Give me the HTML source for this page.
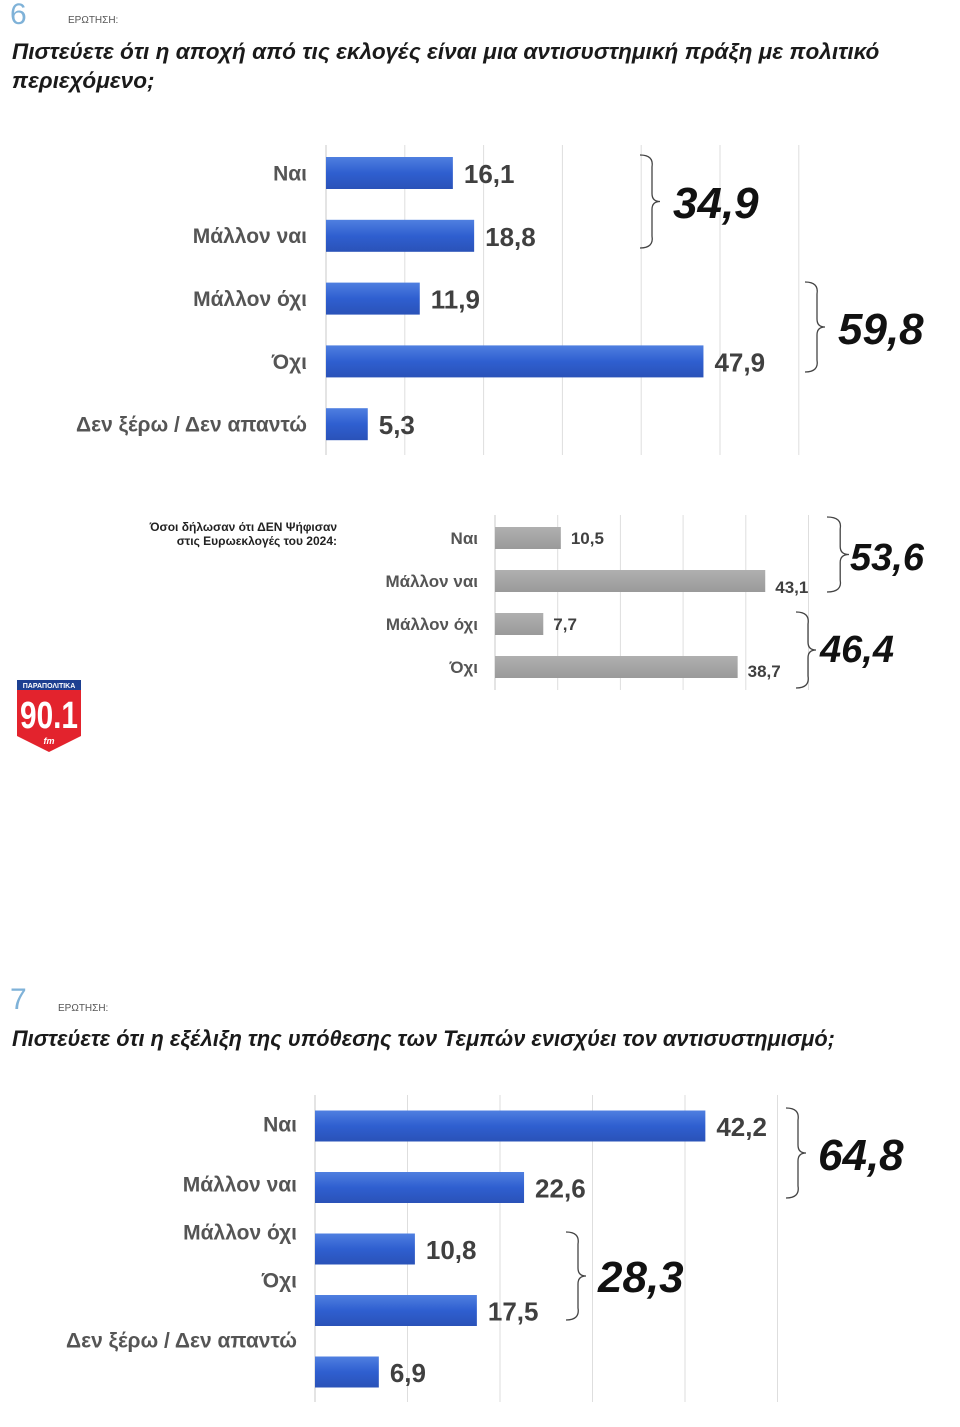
<!DOCTYPE html>
<html><head><meta charset="utf-8">
<style>
html,body{margin:0;padding:0;background:#fff;}
body{width:960px;height:1427px;position:relative;overflow:hidden;font-family:"Liberation Sans","DejaVu Sans",sans-serif;}
.abs{position:absolute;}
.qt{font-weight:bold;font-style:italic;font-size:22.6px;color:#1a1a1a;line-height:29px;}
.num{font-size:30px;color:#7fb2d8;font-weight:300;}
.lbl{font-size:10px;color:#555;}
</style></head>
<body>
<div class="abs num" style="left:10px;top:-2px;">6</div>
<div class="abs lbl" style="left:68px;top:15px;">ΕΡΩΤΗΣΗ:</div>
<div class="abs qt" style="left:12px;top:37px;width:940px;">Πιστεύετε ότι η αποχή από τις εκλογές είναι μια αντισυστημική πράξη με πολιτικό περιεχόμενο;</div>

<div class="abs" style="left:100px;top:520px;width:237px;text-align:right;font-size:12px;font-weight:bold;color:#222;line-height:14px;">Όσοι δήλωσαν ότι ΔΕΝ Ψήφισαν<br>στις Ευρωεκλογές του 2024:</div>

<div class="abs" style="left:16px;top:680px;width:66px;height:72px;">
<svg width="66" height="72" viewBox="0 0 66 72">
<path d="M1 0H65V56L33 72L1 56Z" fill="#e3232d"/>
<rect x="1" y="0" width="64" height="10" fill="#1d3f91"/>
<text x="33" y="8" font-size="7" font-weight="bold" fill="#fff" text-anchor="middle" font-family="Liberation Sans, sans-serif">ΠΑΡΑΠΟΛΙΤΙΚΑ</text>
<text x="33" y="48" font-size="38" font-weight="bold" fill="#fff" text-anchor="middle" font-family="Liberation Sans Narrow, Liberation Sans, sans-serif" textLength="58" lengthAdjust="spacingAndGlyphs">90.1</text>
<text x="33" y="64" font-size="9" font-style="italic" font-weight="bold" fill="#fff" text-anchor="middle">fm</text>
</svg></div>

<div class="abs num" style="left:10px;top:983px;">7</div>
<div class="abs lbl" style="left:58px;top:1003px;">ΕΡΩΤΗΣΗ:</div>
<div class="abs qt" style="left:12px;top:1024px;width:940px;font-size:21.8px;">Πιστεύετε ότι η εξέλιξη της υπόθεσης των Τεμπών ενισχύει τον αντισυστημισμό;</div>

<svg id="svg" class="abs" style="left:0;top:0" width="960" height="1427"></svg>

<script>
// Chart 1 data
const c1Categories = ["Ναι","Μάλλον ναι","Μάλλον όχι","Όχι","Δεν ξέρω / Δεν απαντώ"];
const c1Values = [16.1, 18.8, 11.9, 47.9, 5.3];
const c1Labels = ["16,1","18,8","11,9","47,9","5,3"];
const c1Totals = ["34,9","59,8"];
// Chart 2 data
const c2Categories = ["Ναι","Μάλλον ναι","Μάλλον όχι","Όχι"];
const c2Values = [10.5, 43.1, 7.7, 38.7];
const c2Labels = ["10,5","43,1","7,7","38,7"];
const c2Totals = ["53,6","46,4"];
// Chart 3 data
const c3Categories = ["Ναι","Μάλλον ναι","Μάλλον όχι","Όχι","Δεν ξέρω / Δεν απαντώ"];
const c3Values = [42.2, 22.6, 10.8, 17.5, 6.9];
const c3Labels = ["42,2","22,6","10,8","17,5","6,9"];
const c3Totals = ["64,8","28,3"];
const gridTicks = [0, 10, 20, 30, 40, 50, 60];

const NS = "http://www.w3.org/2000/svg";
const svg = document.getElementById('svg');
function mk(tag, attrs, parent){
  const e = document.createElementNS(NS, tag);
  for (const k in attrs) e.setAttribute(k, attrs[k]);
  (parent||svg).appendChild(e);
  return e;
}
const defs = mk('defs', {});
const gb = mk('linearGradient', {id:'gblue', x1:0, y1:0, x2:0, y2:1}, defs);
mk('stop', {offset:'0', 'stop-color':'#4f7fe0'}, gb);
mk('stop', {offset:'0.5', 'stop-color':'#2f5fd0'}, gb);
mk('stop', {offset:'1', 'stop-color':'#2a52b8'}, gb);
const gg = mk('linearGradient', {id:'ggrey', x1:0, y1:0, x2:0, y2:1}, defs);
mk('stop', {offset:'0', 'stop-color':'#b0b0b0'}, gg);
mk('stop', {offset:'1', 'stop-color':'#9a9a9a'}, gg);

function brace(x, y1, y2, w){
  const m = (y1+y2)/2;
  const d = `M${x} ${y1} Q${x+w*0.7} ${y1} ${x+w*0.6} ${y1+12} L${x+w*0.6} ${m-8} Q${x+w*0.6} ${m} ${x+w} ${m} Q${x+w*0.6} ${m} ${x+w*0.6} ${m+8} L${x+w*0.6} ${y2-12} Q${x+w*0.7} ${y2} ${x} ${y2}`;
  const p = mk('path', {d:d, fill:'none', stroke:'#444', 'stroke-width':1.3});
  
  
}

function chart(o){
  const xs = v => o.x0 + v * o.scale;
  const ys = i => o.y0 + i * o.step;
  gridTicks.forEach(t => {
    const x = xs(t);
    if (x > o.xmax) return;
    const l = mk('line', {x1:x, x2:x, y1:o.top, y2:o.bottom, stroke: t===0?'#c8c8c8':'#dedede', 'stroke-width':1});
    
    
  });
  o.cats.forEach((c, i) => {
    const y = ys(i);
    const r = mk('rect', {x:xs(0), y:y - o.bh/2, width:xs(o.vals[i]) - xs(0), height:o.bh, fill:o.fill});
    
    
    const v = mk('text', {x:xs(o.vals[i]) + o.vgap, y:y + o.vdy + (o.vOff ? o.vOff[i] : 0), 'font-size':o.vfs, 'font-weight':'bold', fill:'#404040', 'font-family':'Liberation Sans, sans-serif'});
    v.textContent = o.labs[i];
    
    
    const cy = o.catY ? o.catY[i] : y;
    const t = mk('text', {x:o.catX, y:cy + o.cfs*0.35, 'font-size':o.cfs, 'font-weight':'bold', fill:'#555', 'text-anchor':'end', 'font-family':'Liberation Sans, sans-serif'});
    t.textContent = c;
    
    
  });
  o.totals.forEach((tot, i) => {
    const b = o.braces[i];
    brace(b.x, b.y1, b.y2, b.w);
    const t = mk('text', {x:b.tx, y:b.ty, 'font-size':o.tfs, 'font-weight':'bold', 'font-style':'italic', fill:'#111', 'font-family':'Liberation Sans, sans-serif'});
    t.textContent = tot;
    
    
  });
}

chart({cats:c1Categories, vals:c1Values, labs:c1Labels, totals:c1Totals,
  x0:326, scale:7.88, xmax:800, y0:173, step:62.8, bh:32, top:145, bottom:455,
  fill:'url(#gblue)', vgap:11, vdy:10, vfs:26, catX:307, cfs:21, tfs:44,
  braces:[{x:640,y1:155,y2:248,w:20,tx:673,ty:218},{x:805,y1:282,y2:372,w:20,tx:838,ty:344}]});

chart({cats:c2Categories, vals:c2Values, labs:c2Labels, totals:c2Totals,
  x0:495, scale:6.27, xmax:812, y0:538, step:43, bh:22, top:515, bottom:690,
  fill:'url(#ggrey)', vgap:10, vdy:6, vfs:17, vOff:[0,6,0,4], catX:478, cfs:17, tfs:38,
  braces:[{x:827,y1:517,y2:592,w:22,tx:850,ty:570},{x:796,y1:612,y2:688,w:20,tx:820,ty:662}]});

chart({cats:c3Categories, vals:c3Values, labs:c3Labels, totals:c3Totals,
  x0:315, scale:9.25, xmax:780, y0:1126, step:61.5, bh:31, top:1095, bottom:1402,
  fill:'url(#gblue)', vgap:11, vdy:10, vfs:26, catX:297, cfs:21, tfs:44,
  catY:[1124,1184,1232,1280,1340],
  braces:[{x:786,y1:1108,y2:1198,w:20,tx:818,ty:1170},{x:566,y1:1232,y2:1320,w:20,tx:598,ty:1292}]});
</script>
</body></html>
